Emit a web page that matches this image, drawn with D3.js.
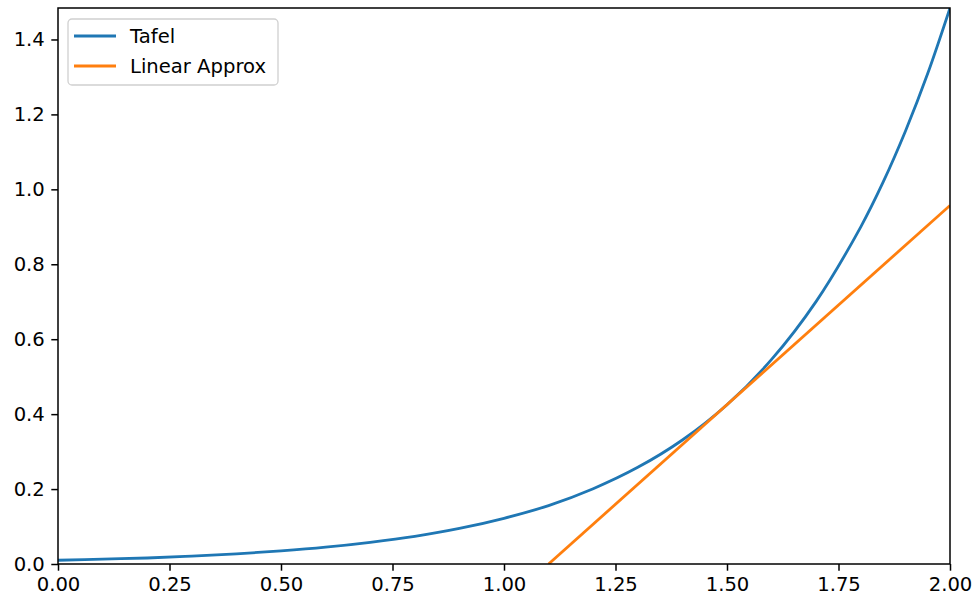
<!DOCTYPE html>
<html>
<head>
<meta charset="utf-8">
<script src="https://cdn.jsdelivr.net/npm/d3@7"></script>
<style>
  html, body { margin: 0; padding: 0; background: #fff; }
  svg { display: block; font-family: "DejaVu Sans", sans-serif; }
</style>
</head>
<body>
<svg id="chart" width="977" height="603"></svg>
<script>
// Data
const tafelX = [0.0, 0.1, 0.2, 0.3, 0.4, 0.5, 0.6, 0.7, 0.8, 0.9, 1.0, 1.1, 1.2, 1.3, 1.4, 1.5, 1.6, 1.7, 1.8, 1.85, 1.9, 1.95, 2.0];
const tafelY = [0.010, 0.013, 0.016, 0.021, 0.027, 0.035, 0.045, 0.058, 0.074, 0.095, 0.122, 0.156, 0.201, 0.258, 0.331, 0.425, 0.546, 0.701, 0.900, 1.019, 1.155, 1.309, 1.484];
const linearX = [1.1, 2.0];
const linearY = [0.0, 0.957];
const xTicks = [0.00, 0.25, 0.50, 0.75, 1.00, 1.25, 1.50, 1.75, 2.00];
const yTicks = [0.0, 0.2, 0.4, 0.6, 0.8, 1.0, 1.2, 1.4];
const seriesNames = ["Tafel", "Linear Approx"];
const seriesColors = ["#1f77b4", "#ff7f0e"];

const svg = d3.select("#chart");
const L = 58, R = 950, T = 8, B = 564;
const fs = 19.6;
const x = d3.scaleLinear().domain([0, 2]).range([L, R]);
const y = d3.scaleLinear().domain([0, 1.484]).range([B, T]);

svg.append("clipPath").attr("id", "clip")
  .append("rect").attr("x", L).attr("y", T).attr("width", R - L).attr("height", B - T);

const line = d3.line().x(d => x(d[0])).y(d => y(d[1])).curve(d3.curveCatmullRom);
const plot = svg.append("g").attr("clip-path", "url(#clip)");
plot.append("path")
  .datum(tafelX.map((v, i) => [v, tafelY[i]]))
  .attr("d", line).attr("fill", "none")
  .attr("stroke", seriesColors[0]).attr("stroke-width", 2.8);
plot.append("path")
  .datum(linearX.map((v, i) => [v, linearY[i]]))
  .attr("d", d3.line().x(d => x(d[0])).y(d => y(d[1]))).attr("fill", "none")
  .attr("stroke", seriesColors[1]).attr("stroke-width", 2.8);

// Axes
const xAxis = d3.axisBottom(x).tickValues(xTicks).tickFormat(d3.format(".2f")).tickSize(6.7).tickPadding(6.5);
const yAxis = d3.axisLeft(y).tickValues(yTicks).tickFormat(d3.format(".1f")).tickSize(6.7).tickPadding(6.5);
const gx = svg.append("g").attr("transform", `translate(0,${B})`).call(xAxis);
const gy = svg.append("g").attr("transform", `translate(${L},0)`).call(yAxis);
[gx, gy].forEach(g => {
  g.select(".domain").remove();
  g.selectAll(".tick line").attr("stroke", "#000").attr("stroke-width", 1.5);
  g.selectAll(".tick text").attr("fill", "#000").style("font-size", fs + "px").style("font-family", "DejaVu Sans");
});

// Frame
svg.append("rect").attr("x", L).attr("y", T).attr("width", R - L).attr("height", B - T)
  .attr("fill", "none").attr("stroke", "#000").attr("stroke-width", 1.5);

// Legend
const lg = svg.append("g");
lg.append("rect").attr("x", 68).attr("y", 19).attr("width", 210).attr("height", 66)
  .attr("rx", 4).attr("fill", "#fff").attr("fill-opacity", 0.8)
  .attr("stroke", "#d0d0d0").attr("stroke-width", 1.3);
seriesNames.forEach((n, i) => {
  const yy = 36 + i * 30;
  lg.append("line").attr("x1", 74).attr("x2", 116).attr("y1", yy).attr("y2", yy)
    .attr("stroke", seriesColors[i]).attr("stroke-width", 2.8);
  lg.append("text").attr("x", 130).attr("y", yy).attr("dy", "0.36em")
    .style("font-size", fs + "px").attr("fill", "#000").text(n);
});
</script>
</body>
</html>
